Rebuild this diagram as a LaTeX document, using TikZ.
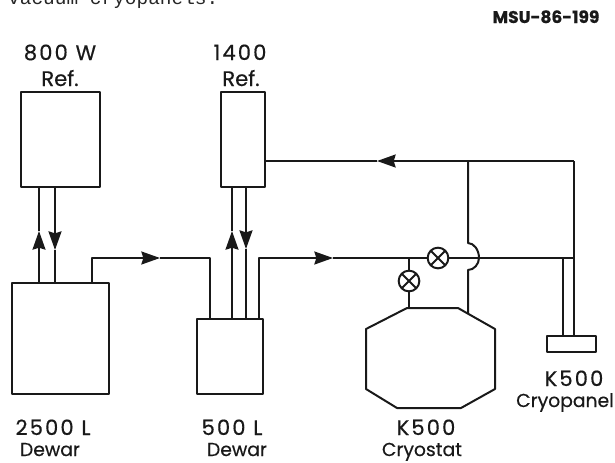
\documentclass[tikz,border=0pt]{standalone}
\usepackage{fontspec}
\setmainfont{Poppins}[FakeBold=0.5]
\newfontfamily\widefont{Poppins}[FakeBold=0.5, LetterSpace=10]
\newfontfamily\typedfont{Liberation Mono}
\usepackage{tikz}
\usetikzlibrary{arrows.meta,positioning}

\begin{document}
\begin{tikzpicture}[x=0.03cm, y=-0.03cm,
  box/.style={draw=black!90, line width=1.7pt, line join=round, inner sep=0pt, outer sep=0pt},
  pipe/.style={draw=black!90, line width=1.7pt, line join=round},
  arr/.style={pipe, -{Stealth[length=5.6mm, width=3.9mm, inset=0.6mm]}},
  valve/.style={circle, draw=black!90, fill=white, line width=1.7pt, inner sep=0pt, outer sep=0pt,
                minimum size=6.2mm,
                path picture={\draw[line width=1.7pt, black!90]
                  (path picture bounding box.north west) -- (path picture bounding box.south east)
                  (path picture bounding box.north east) -- (path picture bounding box.south west);}},
  lab/.style={font=\fontsize{18}{18}\selectfont, text=black!90, inner sep=0pt, anchor=base},
  widelab/.style={lab, font=\widefont\fontsize{18}{18}\selectfont},
  smalllab/.style={lab, font=\fontsize{16}{16}\selectfont}]
\useasboundingbox (0,0) rectangle (615,462);
% --- typed text and figure number ---
\node[anchor=base west, inner sep=0pt, font=\typedfont\fontsize{16.6}{16.6}\selectfont, text=black!85] (typed) at (8,4)
  {vacuum cryopanels.};
\node[lab, font=\bfseries\fontsize{14.5}{14.5}\selectfont] (msu) at (546,23) {MSU-86-199};
% --- refrigerators and dewars ---
\node[box, minimum width=2.37cm, minimum height=2.85cm] (refA) at (60.5,139.5) {};
\node[box, minimum width=1.32cm, minimum height=2.85cm] (refB) at (243,139.5) {};
\node[box, minimum width=2.91cm, minimum height=3.33cm] (dewarA) at (60.5,338.5) {};
\node[box, minimum width=1.98cm, minimum height=2.25cm] (dewarB) at (230,356.5) {};
\node[box, minimum width=1.47cm, minimum height=0.48cm] (panel) at (571.5,344) {};
% --- cryostat ---
\draw[pipe] (407,308) -- (458,308) -- (495,329) -- (495,389) -- (461,408)
  -- (397,408) -- (366,389) -- (366,329) -- cycle;
\coordinate (cryoIn) at (409,308);
\coordinate (cryoOut) at (468,313.5);
% --- labels ---
\foreach \n/\x/\y/\t in {labA/60/60/800 W, labC/240/60/1400}
  \node[widelab] (\n) at (\x,\y) {\t};
\foreach \n/\x/\y/\t in {labB/60/86/Ref., labD/241/86/Ref.}
  \node[lab] (\n) at (\x,\y) {\t};
\foreach \n/\x/\y/\t in {labE/53/435/2500 L, labG/232/435/500 L,
                         labI/426/435/K500, labK/574/386/K500}
  \node[widelab] (\n) at (\x,\y) {\t};
\foreach \n/\x/\y/\t in {labF/50/456/Dewar, labH/237/456/Dewar,
                         labJ/422/456/Cryostat, labL/565/407/Cryopanel}
  \node[smalllab] (\n) at (\x,\y) {\t};
% --- pipe corners and arrow tips ---
\coordinate (upA) at (39,231);
\coordinate (downA) at (55,250);
\coordinate (upB) at (232,231);
\coordinate (downB) at (246,249);
\coordinate (tipC) at (160,258);
\coordinate (tipD) at (333,258);
\coordinate (tipE) at (377,161);
\coordinate (corner) at (574,161);
\coordinate (tee) at (574,258);
\coordinate (teeB) at (563,258);
\coordinate (branch) at (468,161);
\coordinate (hopTop) at (468,243);
\coordinate (hopBot) at (468,270);
\coordinate (junction) at (409,258);
% --- refrigerator pipes ---
\draw[arr] (dewarA.north -| upA) -- (upA);
\draw[pipe] (upA) -- (refA.south -| upA);
\draw[arr] (refA.south -| downA) -- (downA);
\draw[pipe] (downA) -- (dewarA.north -| downA);
\draw[arr] (dewarB.north -| upB) -- (upB);
\draw[pipe] (upB) -- (refB.south -| upB);
\draw[arr] (refB.south -| downB) -- (downB);
\draw[pipe] (downB) -- (dewarB.north -| downB);
% --- transfer lines ---
\draw[arr] (92,283) |- (tipC);
\draw[pipe] (tipC) -| (210,319);
\draw[arr] (259,319) |- (tipD);
\draw[pipe] (tipD) -- (tee);
% --- return line ---
\draw[arr] (corner) -- (tipE);
\draw[pipe] (tipE) -- (refB.east |- tipE);
\draw[pipe] (corner) -- (tee) -- (panel.north -| tee);
\draw[pipe] (teeB) -- (panel.north -| teeB);
\draw[pipe] (branch) -- (hopTop) .. controls (474,243) and (479,250) .. (479,258)
  .. controls (479,264) and (474,270) .. (hopBot) -- (cryoOut);
% --- valves ---
\draw[pipe] (junction) -- (cryoIn);
\node[valve] (valveA) at (438,258) {};
\node[valve] (valveB) at (409,281) {};
\end{tikzpicture}
\end{document}
